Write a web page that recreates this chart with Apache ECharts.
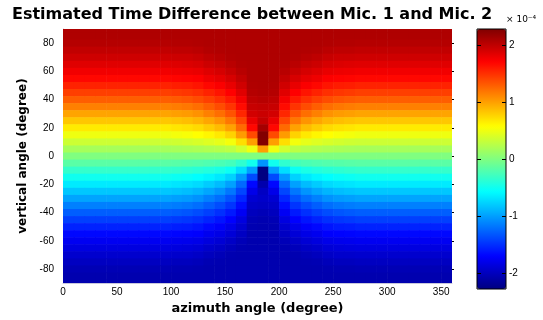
<!DOCTYPE html>
<html>
<head>
<meta charset="utf-8">
<script src="https://cdn.jsdelivr.net/npm/echarts@6/dist/echarts.min.js"></script>
<style>
  html, body { margin: 0; padding: 0; background: #fff; }
  #main { width: 543px; height: 320px; }
</style>
</head>
<body>
<div id="main"></div>
<script>
// azimuth cell left edges (degree), each cell is 10 deg wide
const azimuth = [0, 10, 20, 30, 40, 50, 60, 70, 80, 90, 100, 110, 120, 130, 140, 150, 160, 170,
  180, 190, 200, 210, 220, 230, 240, 250, 260, 270, 280, 290, 300, 310, 320, 330, 340, 350];
// vertical angle cell centres (degree), 5 deg rows
const elevation = [90, 85, 80, 75, 70, 65, 60, 55, 50, 45, 40, 35, 30, 25, 20, 15, 10, 5, 0,
  -5, -10, -15, -20, -25, -30, -35, -40, -45, -50, -55, -60, -65, -70, -75, -80, -85, -90];
const xTicks = [0, 50, 100, 150, 200, 250, 300, 350];
const yTicks = [-80, -60, -40, -20, 0, 20, 40, 60, 80];
const cbarTicks = [-2, -1, 0, 1, 2];
const cbarMin = -2.28;
const cbarMax = 2.28;

// estimated time difference (x 1e-4 s), one row per elevation, one column per azimuth
const timeDiff = [
  [2.07,2.07,2.07,2.07,2.07,2.07,2.07,2.07,2.07,2.07,2.07,2.07,2.07,2.07,2.07,2.07,2.07,2.07,2.07,2.07,2.07,2.07,2.07,2.07,2.07,2.07,2.07,2.07,2.07,2.07,2.07,2.07,2.07,2.07,2.07,2.07],
  [2.07,2.07,2.07,2.07,2.07,2.07,2.07,2.07,2.07,2.07,2.07,2.07,2.07,2.07,2.07,2.07,2.07,2.07,2.07,2.07,2.07,2.07,2.07,2.07,2.07,2.07,2.07,2.07,2.07,2.07,2.07,2.07,2.07,2.07,2.07,2.07],
  [2.04,2.04,2.04,2.04,2.04,2.04,2.04,2.04,2.04,2.04,2.05,2.05,2.06,2.07,2.07,2.07,2.07,2.07,2.07,2.07,2.07,2.07,2.07,2.07,2.06,2.05,2.05,2.04,2.04,2.04,2.04,2.04,2.04,2.04,2.04,2.04],
  [1.99,1.99,1.99,1.99,1.99,1.99,1.99,1.99,1.99,1.99,2.00,2.00,2.02,2.05,2.06,2.07,2.07,2.07,2.07,2.07,2.07,2.07,2.06,2.05,2.02,2.00,2.00,1.99,1.99,1.99,1.99,1.99,1.99,1.99,1.99,1.99],
  [1.93,1.93,1.93,1.93,1.93,1.93,1.93,1.93,1.93,1.93,1.94,1.94,1.96,2.00,2.03,2.06,2.07,2.07,2.07,2.07,2.07,2.06,2.03,2.00,1.96,1.94,1.94,1.93,1.93,1.93,1.93,1.93,1.93,1.93,1.93,1.93],
  [1.85,1.85,1.85,1.85,1.85,1.85,1.85,1.85,1.85,1.85,1.86,1.87,1.89,1.94,1.97,2.02,2.06,2.07,2.07,2.07,2.06,2.02,1.97,1.94,1.89,1.87,1.86,1.85,1.85,1.85,1.85,1.85,1.85,1.85,1.85,1.85],
  [1.77,1.77,1.77,1.77,1.77,1.77,1.77,1.77,1.77,1.77,1.78,1.79,1.81,1.86,1.90,1.96,2.03,2.07,2.07,2.07,2.03,1.96,1.90,1.86,1.81,1.79,1.78,1.77,1.77,1.77,1.77,1.77,1.77,1.77,1.77,1.77],
  [1.68,1.68,1.68,1.68,1.68,1.68,1.68,1.68,1.68,1.68,1.69,1.70,1.72,1.78,1.82,1.89,1.98,2.07,2.07,2.07,1.98,1.89,1.82,1.78,1.72,1.70,1.69,1.68,1.68,1.68,1.68,1.68,1.68,1.68,1.68,1.68],
  [1.56,1.56,1.56,1.56,1.56,1.56,1.56,1.56,1.56,1.56,1.58,1.59,1.62,1.68,1.73,1.81,1.92,2.06,2.07,2.06,1.92,1.81,1.73,1.68,1.62,1.59,1.58,1.56,1.56,1.56,1.56,1.56,1.56,1.56,1.56,1.56],
  [1.43,1.43,1.43,1.43,1.43,1.43,1.43,1.43,1.43,1.43,1.45,1.47,1.50,1.56,1.62,1.71,1.85,2.04,2.06,2.04,1.85,1.71,1.62,1.56,1.50,1.47,1.45,1.43,1.43,1.43,1.43,1.43,1.43,1.43,1.43,1.43],
  [1.29,1.29,1.29,1.29,1.29,1.29,1.29,1.29,1.29,1.29,1.31,1.33,1.37,1.43,1.50,1.60,1.76,2.00,2.03,2.00,1.76,1.60,1.50,1.43,1.37,1.33,1.31,1.29,1.29,1.29,1.29,1.29,1.29,1.29,1.29,1.29],
  [1.14,1.14,1.14,1.14,1.14,1.14,1.14,1.14,1.14,1.14,1.16,1.18,1.22,1.29,1.37,1.48,1.66,1.96,1.98,1.96,1.66,1.48,1.37,1.29,1.22,1.18,1.16,1.14,1.14,1.14,1.14,1.14,1.14,1.14,1.14,1.14],
  [0.98,0.98,0.98,0.98,0.98,0.98,0.98,0.98,0.98,0.98,1.00,1.02,1.06,1.14,1.22,1.34,1.54,1.91,1.95,1.91,1.54,1.34,1.22,1.14,1.06,1.02,1.00,0.98,0.98,0.98,0.98,0.98,0.98,0.98,0.98,0.98],
  [0.82,0.82,0.82,0.82,0.82,0.82,0.82,0.82,0.82,0.82,0.84,0.86,0.90,0.97,1.05,1.18,1.40,1.81,1.98,1.81,1.40,1.18,1.05,0.97,0.90,0.86,0.84,0.82,0.82,0.82,0.82,0.82,0.82,0.82,0.82,0.82],
  [0.66,0.66,0.66,0.66,0.66,0.66,0.66,0.66,0.66,0.66,0.68,0.70,0.73,0.80,0.87,0.99,1.24,1.68,2.12,1.68,1.24,0.99,0.87,0.80,0.73,0.70,0.68,0.66,0.66,0.66,0.66,0.66,0.66,0.66,0.66,0.66],
  [0.50,0.50,0.50,0.50,0.50,0.50,0.50,0.50,0.50,0.50,0.52,0.54,0.57,0.61,0.67,0.77,1.02,1.38,2.27,1.38,1.02,0.77,0.67,0.61,0.57,0.54,0.52,0.50,0.50,0.50,0.50,0.50,0.50,0.50,0.50,0.50],
  [0.34,0.34,0.34,0.34,0.34,0.34,0.34,0.34,0.34,0.34,0.35,0.37,0.39,0.42,0.46,0.52,0.72,1.00,2.26,1.00,0.72,0.52,0.46,0.42,0.39,0.37,0.35,0.34,0.34,0.34,0.34,0.34,0.34,0.34,0.34,0.34],
  [0.17,0.17,0.17,0.17,0.17,0.17,0.17,0.17,0.17,0.17,0.18,0.19,0.20,0.22,0.24,0.27,0.36,0.50,1.00,0.50,0.36,0.27,0.24,0.22,0.20,0.19,0.18,0.17,0.17,0.17,0.17,0.17,0.17,0.17,0.17,0.17],
  [0.00,0.00,0.00,0.00,0.00,0.00,0.00,0.00,0.00,0.00,0.00,0.00,0.00,0.00,0.00,0.00,0.00,0.00,0.00,0.00,0.00,0.00,0.00,0.00,0.00,0.00,0.00,0.00,0.00,0.00,0.00,0.00,0.00,0.00,0.00,0.00],
  [-0.17,-0.17,-0.17,-0.17,-0.17,-0.17,-0.17,-0.17,-0.17,-0.17,-0.18,-0.19,-0.20,-0.22,-0.24,-0.27,-0.36,-0.50,-1.05,-0.50,-0.36,-0.27,-0.24,-0.22,-0.20,-0.19,-0.18,-0.17,-0.17,-0.17,-0.17,-0.17,-0.17,-0.17,-0.17,-0.17],
  [-0.34,-0.34,-0.34,-0.34,-0.34,-0.34,-0.34,-0.34,-0.34,-0.34,-0.35,-0.37,-0.39,-0.42,-0.46,-0.52,-0.72,-1.00,-2.27,-1.00,-0.72,-0.52,-0.46,-0.42,-0.39,-0.37,-0.35,-0.34,-0.34,-0.34,-0.34,-0.34,-0.34,-0.34,-0.34,-0.34],
  [-0.50,-0.50,-0.50,-0.50,-0.50,-0.50,-0.50,-0.50,-0.50,-0.50,-0.52,-0.54,-0.57,-0.61,-0.67,-0.77,-1.02,-1.38,-2.27,-1.38,-1.02,-0.77,-0.67,-0.61,-0.57,-0.54,-0.52,-0.50,-0.50,-0.50,-0.50,-0.50,-0.50,-0.50,-0.50,-0.50],
  [-0.66,-0.66,-0.66,-0.66,-0.66,-0.66,-0.66,-0.66,-0.66,-0.66,-0.68,-0.70,-0.73,-0.80,-0.87,-0.99,-1.24,-1.68,-2.08,-1.68,-1.24,-0.99,-0.87,-0.80,-0.73,-0.70,-0.68,-0.66,-0.66,-0.66,-0.66,-0.66,-0.66,-0.66,-0.66,-0.66],
  [-0.82,-0.82,-0.82,-0.82,-0.82,-0.82,-0.82,-0.82,-0.82,-0.82,-0.84,-0.86,-0.90,-0.97,-1.05,-1.18,-1.40,-1.81,-1.98,-1.81,-1.40,-1.18,-1.05,-0.97,-0.90,-0.86,-0.84,-0.82,-0.82,-0.82,-0.82,-0.82,-0.82,-0.82,-0.82,-0.82],
  [-0.98,-0.98,-0.98,-0.98,-0.98,-0.98,-0.98,-0.98,-0.98,-0.98,-1.00,-1.02,-1.06,-1.14,-1.22,-1.34,-1.54,-1.91,-1.95,-1.91,-1.54,-1.34,-1.22,-1.14,-1.06,-1.02,-1.00,-0.98,-0.98,-0.98,-0.98,-0.98,-0.98,-0.98,-0.98,-0.98],
  [-1.14,-1.14,-1.14,-1.14,-1.14,-1.14,-1.14,-1.14,-1.14,-1.14,-1.16,-1.18,-1.22,-1.29,-1.37,-1.48,-1.66,-1.96,-1.98,-1.96,-1.66,-1.48,-1.37,-1.29,-1.22,-1.18,-1.16,-1.14,-1.14,-1.14,-1.14,-1.14,-1.14,-1.14,-1.14,-1.14],
  [-1.29,-1.29,-1.29,-1.29,-1.29,-1.29,-1.29,-1.29,-1.29,-1.29,-1.31,-1.33,-1.37,-1.43,-1.50,-1.60,-1.76,-2.00,-2.03,-2.00,-1.76,-1.60,-1.50,-1.43,-1.37,-1.33,-1.31,-1.29,-1.29,-1.29,-1.29,-1.29,-1.29,-1.29,-1.29,-1.29],
  [-1.43,-1.43,-1.43,-1.43,-1.43,-1.43,-1.43,-1.43,-1.43,-1.43,-1.45,-1.47,-1.50,-1.56,-1.62,-1.71,-1.85,-2.04,-2.06,-2.04,-1.85,-1.71,-1.62,-1.56,-1.50,-1.47,-1.45,-1.43,-1.43,-1.43,-1.43,-1.43,-1.43,-1.43,-1.43,-1.43],
  [-1.56,-1.56,-1.56,-1.56,-1.56,-1.56,-1.56,-1.56,-1.56,-1.56,-1.58,-1.59,-1.62,-1.68,-1.73,-1.81,-1.92,-2.06,-2.07,-2.06,-1.92,-1.81,-1.73,-1.68,-1.62,-1.59,-1.58,-1.56,-1.56,-1.56,-1.56,-1.56,-1.56,-1.56,-1.56,-1.56],
  [-1.68,-1.68,-1.68,-1.68,-1.68,-1.68,-1.68,-1.68,-1.68,-1.68,-1.69,-1.70,-1.72,-1.78,-1.82,-1.89,-1.98,-2.07,-2.07,-2.07,-1.98,-1.89,-1.82,-1.78,-1.72,-1.70,-1.69,-1.68,-1.68,-1.68,-1.68,-1.68,-1.68,-1.68,-1.68,-1.68],
  [-1.77,-1.77,-1.77,-1.77,-1.77,-1.77,-1.77,-1.77,-1.77,-1.77,-1.78,-1.79,-1.81,-1.86,-1.90,-1.96,-2.03,-2.07,-2.07,-2.07,-2.03,-1.96,-1.90,-1.86,-1.81,-1.79,-1.78,-1.77,-1.77,-1.77,-1.77,-1.77,-1.77,-1.77,-1.77,-1.77],
  [-1.85,-1.85,-1.85,-1.85,-1.85,-1.85,-1.85,-1.85,-1.85,-1.85,-1.86,-1.87,-1.89,-1.94,-1.97,-2.02,-2.06,-2.07,-2.07,-2.07,-2.06,-2.02,-1.97,-1.94,-1.89,-1.87,-1.86,-1.85,-1.85,-1.85,-1.85,-1.85,-1.85,-1.85,-1.85,-1.85],
  [-1.93,-1.93,-1.93,-1.93,-1.93,-1.93,-1.93,-1.93,-1.93,-1.93,-1.94,-1.94,-1.96,-2.00,-2.03,-2.06,-2.07,-2.07,-2.07,-2.07,-2.07,-2.06,-2.03,-2.00,-1.96,-1.94,-1.94,-1.93,-1.93,-1.93,-1.93,-1.93,-1.93,-1.93,-1.93,-1.93],
  [-1.99,-1.99,-1.99,-1.99,-1.99,-1.99,-1.99,-1.99,-1.99,-1.99,-2.00,-2.00,-2.02,-2.05,-2.06,-2.07,-2.07,-2.07,-2.07,-2.07,-2.07,-2.07,-2.06,-2.05,-2.02,-2.00,-2.00,-1.99,-1.99,-1.99,-1.99,-1.99,-1.99,-1.99,-1.99,-1.99],
  [-2.04,-2.04,-2.04,-2.04,-2.04,-2.04,-2.04,-2.04,-2.04,-2.04,-2.05,-2.05,-2.06,-2.07,-2.07,-2.07,-2.07,-2.07,-2.07,-2.07,-2.07,-2.07,-2.07,-2.07,-2.06,-2.05,-2.05,-2.04,-2.04,-2.04,-2.04,-2.04,-2.04,-2.04,-2.04,-2.04],
  [-2.07,-2.07,-2.07,-2.07,-2.07,-2.07,-2.07,-2.07,-2.07,-2.07,-2.07,-2.07,-2.07,-2.07,-2.07,-2.07,-2.07,-2.07,-2.07,-2.07,-2.07,-2.07,-2.07,-2.07,-2.07,-2.07,-2.07,-2.07,-2.07,-2.07,-2.07,-2.07,-2.07,-2.07,-2.07,-2.07],
  [-2.07,-2.07,-2.07,-2.07,-2.07,-2.07,-2.07,-2.07,-2.07,-2.07,-2.07,-2.07,-2.07,-2.07,-2.07,-2.07,-2.07,-2.07,-2.07,-2.07,-2.07,-2.07,-2.07,-2.07,-2.07,-2.07,-2.07,-2.07,-2.07,-2.07,-2.07,-2.07,-2.07,-2.07,-2.07,-2.07]
];

// matlab "jet" colormap
const jetColors = ['#000080', '#0000ff', '#0080ff', '#00ffff', '#80ff80', '#ffff00', '#ff8000', '#ff0000', '#800000'];

let cells = [];
elevation.forEach(function (el, r) {
  azimuth.forEach(function (az, c) {
    cells.push([az, el, timeDiff[r][c]]);
  });
});

const labelFont = { fontFamily: 'Liberation Sans, Arial, sans-serif', fontSize: 10, color: '#000' };
const nameFont = { fontFamily: 'DejaVu Sans, sans-serif', fontWeight: 'bold', color: '#000' };

let option = {
  animation: false,
  title: {
    text: 'Estimated Time Difference between Mic. 1 and Mic. 2',
    left: 12,
    top: 7,
    padding: 0,
    textStyle: { fontFamily: 'DejaVu Sans, sans-serif', fontWeight: 'bold', fontSize: 16, color: '#000' },
  },
  graphic: [
    {
      type: 'text',
      left: 506,
      top: 15,
      style: { text: '× 10⁻⁴', fontSize: 9, fontFamily: 'DejaVu Sans, sans-serif', fill: '#000' },
    },
  ],
  grid: [
    { left: 63, top: 29, width: 389, height: 260 },
    { left: 477, top: 29, width: 29, height: 260, show: true, borderColor: '#000', borderWidth: 1, backgroundColor: 'transparent', z: 10 },
  ],
  xAxis: [
    {
      type: 'value',
      gridIndex: 0,
      min: 0,
      max: 360,
      name: 'azimuth angle (degree)',
      nameLocation: 'middle',
      nameGap: 17,
      nameTextStyle: Object.assign({ fontSize: 13 }, nameFont),
      axisLine: { onZero: false, lineStyle: { color: '#c8c8dc' } },
      axisTick: { show: false },
      axisLabel: Object.assign({ margin: 4, customValues: xTicks }, labelFont),
      splitLine: { show: false },
    },
    { type: 'value', gridIndex: 1, min: 0, max: 1, show: false, axisLine: { onZero: false } },
  ],
  yAxis: [
    {
      type: 'value',
      gridIndex: 0,
      min: -90,
      max: 90,
      name: 'vertical angle (degree)',
      nameLocation: 'middle',
      nameGap: 18,
      nameTextStyle: Object.assign({ fontSize: 12 }, nameFont),
      axisLine: { onZero: false, lineStyle: { color: '#c8c8dc' } },
      axisTick: { show: false },
      axisLabel: Object.assign({ margin: 9, customValues: yTicks }, labelFont),
      splitLine: { show: false },
    },
    {
      type: 'value',
      gridIndex: 0,
      position: 'right',
      min: -90,
      max: 90,
      axisLine: { show: false, onZero: false },
      axisTick: { show: true, inside: false, length: 2, customValues: yTicks, lineStyle: { color: '#000' } },
      axisLabel: { show: false },
      splitLine: { show: false },
    },
    {
      type: 'value',
      gridIndex: 1,
      position: 'right',
      min: cbarMin,
      max: cbarMax,
      z: 10,
      axisLine: { show: false, onZero: false },
      axisTick: { show: true, inside: true, length: 4, customValues: cbarTicks, lineStyle: { color: '#000' } },
      axisLabel: Object.assign({ margin: 3, customValues: cbarTicks }, labelFont),
      splitLine: { show: false },
    },
    {
      type: 'value',
      gridIndex: 1,
      position: 'left',
      min: cbarMin,
      max: cbarMax,
      z: 10,
      axisLine: { show: false, onZero: false },
      axisTick: { show: true, inside: true, length: 4, customValues: cbarTicks, lineStyle: { color: '#000' } },
      axisLabel: { show: false },
      splitLine: { show: false },
    },
  ],
  visualMap: {
    type: 'continuous',
    seriesIndex: 0,
    dimension: 2,
    min: cbarMin,
    max: cbarMax,
    calculable: false,
    hoverLink: false,
    z: 1,
    left: 477,
    top: 29,
    padding: 0,
    itemWidth: 29,
    itemHeight: 260,
    inRange: { color: jetColors },
  },
  series: [
    {
      type: 'custom',
      xAxisIndex: 0,
      yAxisIndex: 0,
      clip: true,
      encode: { x: 0, y: 1 },
      data: cells,
      renderItem: function (params, api) {
        let az = api.value(0);
        let el = api.value(1);
        let top = api.coord([az, Math.min(el + 2.5, 90)]);
        let bottom = api.coord([az + 10, Math.max(el - 2.5, -90)]);
        return {
          type: 'rect',
          shape: { x: top[0], y: top[1], width: bottom[0] - top[0] + 0.6, height: bottom[1] - top[1] + 0.6 },
          style: { fill: api.visual('color') },
        };
      },
    },
  ],
};

let myChart = echarts.init(document.getElementById('main'));
myChart.setOption(option);
</script>
</body>
</html>
